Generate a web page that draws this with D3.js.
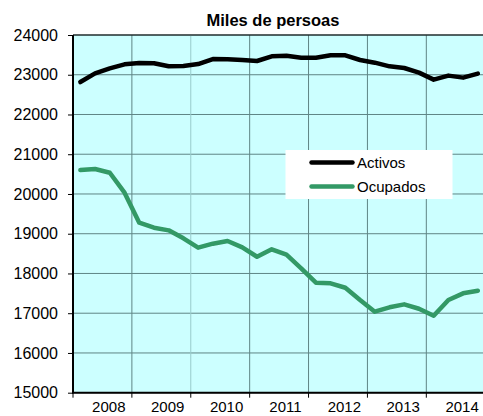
<!DOCTYPE html>
<html><head><meta charset="utf-8">
<script src="https://cdn.jsdelivr.net/npm/d3@7"></script>
<style>body{margin:0;background:#fff;}svg{display:block;font-family:"Liberation Sans",Arial,sans-serif;}</style>
</head><body>
<svg id="c" width="483" height="416"></svg>
<script>
const years = ["2008","2009","2010","2011","2012","2013","2014"];
const quarters = [];
years.forEach(y => ["I","II","III","IV"].forEach(q => quarters.push(y + q)));
const activos = [22817,23036,23162,23262,23295,23290,23212,23220,23270,23396,23390,23371,23346,23464,23480,23430,23430,23489,23489,23371,23304,23212,23170,23053,22877,22978,22927,23028];
const ocupados = [20603,20628,20535,20032,19277,19151,19085,18884,18649,18749,18816,18658,18421,18607,18473,18129,17767,17751,17641,17332,17038,17148,17223,17113,16937,17332,17500,17566];
const yTicks = [15000,16000,17000,18000,19000,20000,21000,22000,23000,24000];
const seriesNames = ["Activos","Ocupados"];
const colors = ["#000000","#339966"];

(function(){
const svg = d3.select("#c");
const pL = 73, pT = 35, pB = 392.7, pR = 485.2;
const x = d3.scaleBand().domain(quarters).range([pL, pR]).paddingInner(0).paddingOuter(0);
const y = d3.scaleLinear().domain([15000,24000]).range([pB, pT]);

svg.append("rect").attr("x", pL).attr("y", pT).attr("width", pR-pL).attr("height", pB-pT).attr("fill", "#ccffff");

const grid = svg.append("g");
yTicks.forEach(t => {
  grid.append("line").attr("x1", pL).attr("x2", pR).attr("y1", y(t)).attr("y2", y(t))
    .attr("stroke", "#5f8585").attr("stroke-width", 1);
});
years.forEach((yr, i) => {
  if (i === 0) return;
  const xv = x(yr + "I");
  grid.append("line").attr("x1", xv).attr("x2", xv).attr("y1", pT).attr("y2", pB)
    .attr("stroke", i === 2 ? "#99cccc" : "#5f8585").attr("stroke-width", 1);
});

svg.append("line").attr("x1", pL).attr("x2", pR).attr("y1", pT).attr("y2", pT).attr("stroke", "#000").attr("stroke-width", 1);

const line = d3.line().x((d, i) => x(quarters[i]) + x.bandwidth()/2).y(d => y(d));
[activos, ocupados].forEach((s, k) => {
  svg.append("path").datum(s).attr("d", line).attr("fill", "none")
    .attr("stroke", colors[k]).attr("stroke-width", 4.5).attr("stroke-linejoin", "round").attr("stroke-linecap", "round");
});

const yAxis = d3.axisLeft(y).tickValues(yTicks).tickSize(5).tickPadding(10).tickFormat(d3.format("d"));
const ya = svg.append("g").attr("transform", `translate(${pL},0)`).call(yAxis);
ya.select(".domain").remove();
ya.selectAll("text").attr("font-size", 16).attr("fill", "#000").attr("font-family", "Liberation Sans, Arial, sans-serif");
ya.selectAll("line").attr("stroke", "#000");

svg.append("line").attr("x1", pL).attr("x2", pL).attr("y1", pT).attr("y2", pB+0.5).attr("stroke", "#000").attr("stroke-width", 2);
svg.append("line").attr("x1", pL-1).attr("x2", pR).attr("y1", pB).attr("y2", pB).attr("stroke", "#000").attr("stroke-width", 2);

const xb = svg.append("g");
years.forEach((yr, i) => {
  const xv = x(yr + "I");
  xb.append("line").attr("x1", xv).attr("x2", xv).attr("y1", pB).attr("y2", pB + 5).attr("stroke", "#000").attr("stroke-width", 1);
  xb.append("text").attr("x", x(yr + "III") + x.bandwidth()/2 - 1).attr("y", 412).attr("text-anchor", "middle")
    .attr("font-size", 15).attr("fill", "#000").text(yr);
});

svg.append("text").attr("x", 273).attr("y", 26).attr("text-anchor", "middle").attr("font-weight", "bold")
  .attr("font-size", 16.5).attr("fill", "#000").text("Miles de persoas");

const lg = svg.append("g");
lg.append("rect").attr("x", 285.5).attr("y", 150).attr("width", 167).attr("height", 49).attr("fill", "#fff");
seriesNames.forEach((n, k) => {
  const ly = 162.5 + k * 24;
  lg.append("line").attr("x1", 311.5).attr("x2", 352.5).attr("y1", ly).attr("y2", ly)
    .attr("stroke", colors[k]).attr("stroke-width", 4.5).attr("stroke-linecap", "round");
  lg.append("text").attr("x", 357).attr("y", ly + 5.5).attr("font-size", 15).attr("fill", "#000").text(n);
});
})();
</script>
</body></html>
